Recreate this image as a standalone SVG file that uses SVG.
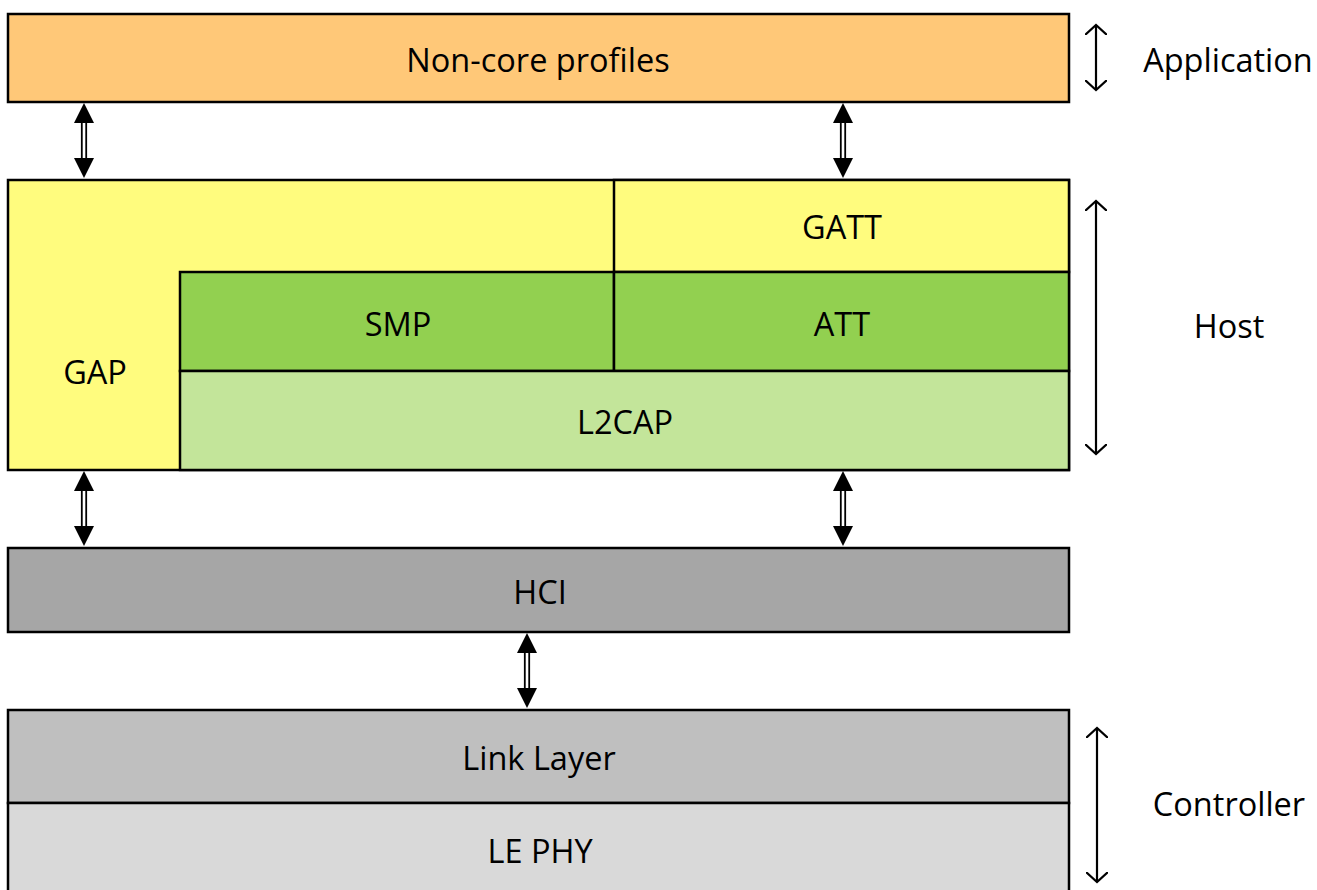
<svg xmlns="http://www.w3.org/2000/svg" xmlns:xlink="http://www.w3.org/1999/xlink" width="1317" height="890" viewBox="0 0 1317 890">
<style>
.box{stroke:#000;stroke-width:2.5}
.lbl{font-family:"Open Sans","Liberation Sans",sans-serif;font-size:32.5px;fill:#000;text-anchor:middle}
.side{stroke:#000;stroke-width:2.2;fill:none}
</style>
<defs>
<g id="dbl">
<line x1="-2.2" y1="18" x2="-2.2" y2="57" stroke="#000" stroke-width="1.8"/>
<line x1="2.2" y1="18" x2="2.2" y2="57" stroke="#000" stroke-width="1.8"/>
<polygon points="0,0 -10,20 10,20" fill="#000"/>
<polygon points="0,75 -10,55 10,55" fill="#000"/>
</g>
<marker id="chev" viewBox="0 0 20 22" refX="10" refY="11" markerWidth="20" markerHeight="22" markerUnits="userSpaceOnUse" orient="auto-start-reverse">
<path d="M0,0 L10,11 L0,22" fill="none" stroke="#000" stroke-width="2.2"/>
</marker>
</defs>
<rect width="1317" height="890" fill="#fff"/>
<g id="noncore">
<rect class="box" x="8" y="14" width="1061" height="88" fill="#FFC878"/>
<text class="lbl" x="538" y="72">Non-core profiles</text>
</g>
<g id="gap">
<rect class="box" x="8" y="180" width="1061" height="290" fill="#FFFC7E"/>
<text class="lbl" x="95" y="384">GAP</text>
</g>
<g id="gatt">
<rect class="box" x="614" y="180" width="455" height="92" fill="#FFFC7E"/>
<text class="lbl" x="842" y="239">GATT</text>
</g>
<g id="smp">
<rect class="box" x="180" y="272" width="434" height="99" fill="#92D050"/>
<text class="lbl" x="398" y="336">SMP</text>
</g>
<g id="att">
<rect class="box" x="614" y="272" width="455" height="99" fill="#92D050"/>
<text class="lbl" x="842" y="336">ATT</text>
</g>
<g id="l2cap">
<rect class="box" x="180" y="371" width="889" height="99" fill="#C3E59A"/>
<text class="lbl" x="625" y="434">L2CAP</text>
</g>
<g id="hci">
<rect class="box" x="8" y="548" width="1061" height="84" fill="#A6A6A6"/>
<text class="lbl" x="540" y="604">HCI</text>
</g>
<g id="linklayer">
<rect class="box" x="8" y="710" width="1061" height="93" fill="#BFBFBF"/>
<text class="lbl" x="539" y="770">Link Layer</text>
</g>
<g id="lephy">
<rect class="box" x="8" y="803" width="1061" height="95" fill="#D9D9D9"/>
<text class="lbl" x="540" y="863">LE PHY</text>
</g>
<g id="connectors">
<use xlink:href="#dbl" transform="translate(84,103)"/>
<use xlink:href="#dbl" transform="translate(843,103)"/>
<use xlink:href="#dbl" transform="translate(84,471)"/>
<use xlink:href="#dbl" transform="translate(843,471)"/>
<use xlink:href="#dbl" transform="translate(527,633)"/>
<line class="side" x1="1096" y1="25" x2="1096" y2="90" marker-start="url(#chev)" marker-end="url(#chev)"/>
<line class="side" x1="1096" y1="201" x2="1096" y2="454" marker-start="url(#chev)" marker-end="url(#chev)"/>
<line class="side" x1="1097" y1="728" x2="1097" y2="882" marker-start="url(#chev)" marker-end="url(#chev)"/>
</g>
<g id="labels">
<text class="lbl" x="1228" y="72">Application</text>
<text class="lbl" x="1229" y="338">Host</text>
<text class="lbl" x="1229" y="816">Controller</text>
</g>
</svg>
